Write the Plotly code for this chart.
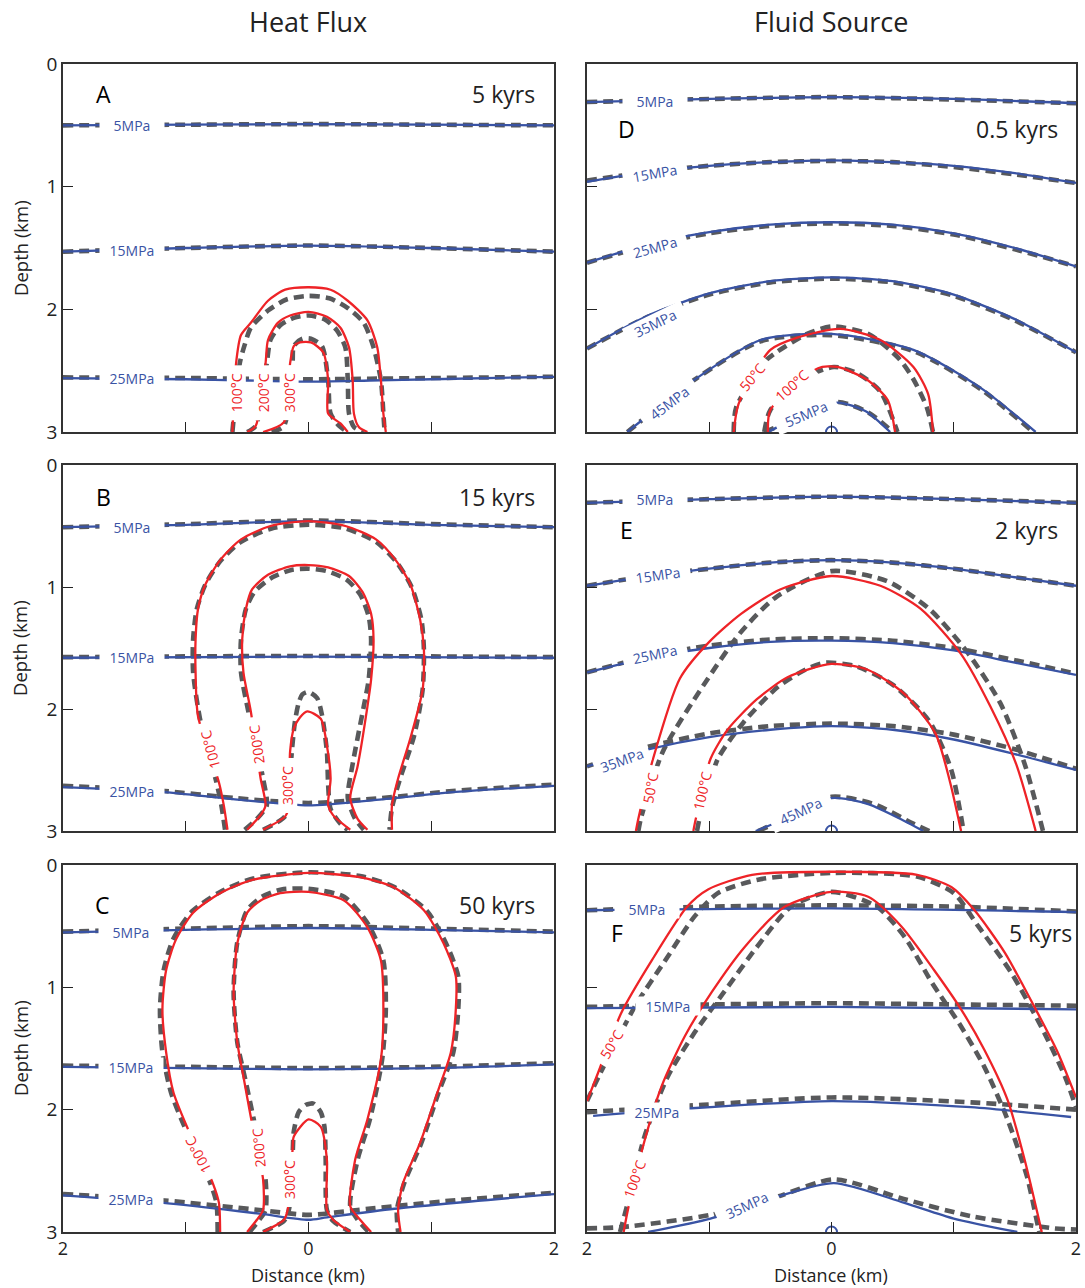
import plotly.graph_objects as go

# ---------------- DATA (x in km from centre, depth in km) ----------------
# Panel A  - Heat Flux, 5 kyrs
A_P5 = [(-2, 0.50), (-1, 0.495), (0, 0.49), (1, 0.495), (2, 0.50)]
A_P5_G = [(-2, 0.50), (-1, 0.495), (0, 0.49), (1, 0.495), (2, 0.50)]
A_P15 = [(-2, 1.53), (-1, 1.50), (0, 1.48), (1, 1.50), (2, 1.53)]
A_P15_G = [(-2, 1.53), (-1, 1.50), (0, 1.48), (1, 1.50), (2, 1.53)]
A_P25 = [(-2, 2.56), (-1, 2.57), (-0.5, 2.58), (0, 2.59), (0.5, 2.58), (1, 2.57), (2, 2.55)]
A_P25_G = [(-2, 2.555), (-1, 2.56), (0, 2.57), (1, 2.56), (2, 2.55)]
A_T100 = [(-0.62, 3.0), (-0.59, 2.44), (-0.55, 2.21), (-0.47, 2.11), (-0.33, 1.93), (-0.19, 1.84), (0, 1.82),
          (0.18, 1.84), (0.32, 1.93), (0.48, 2.09), (0.56, 2.31), (0.59, 2.58), (0.61, 2.85), (0.63, 3.0)]
A_T100_G = [(-0.62, 3.0), (-0.56, 2.44), (-0.52, 2.29), (-0.47, 2.15), (-0.33, 2.01), (-0.18, 1.92), (0, 1.89),
            (0.17, 1.91), (0.32, 1.99), (0.45, 2.11), (0.53, 2.31), (0.59, 2.58), (0.61, 2.85), (0.62, 3.0)]
A_T200 = [(-0.50, 3.0), (-0.43, 2.95), (-0.35, 2.44), (-0.33, 2.25), (-0.25, 2.11), (-0.15, 2.05), (0, 2.02),
          (0.15, 2.06), (0.26, 2.15), (0.33, 2.31), (0.36, 2.58), (0.37, 2.85), (0.41, 2.96), (0.48, 3.0)]
A_T200_G = [(-0.50, 3.0), (-0.43, 2.95), (-0.34, 2.44), (-0.31, 2.25), (-0.23, 2.13), (-0.12, 2.07), (0, 2.05),
            (0.13, 2.08), (0.23, 2.17), (0.30, 2.31), (0.32, 2.58), (0.33, 2.85), (0.37, 2.96), (0.45, 3.0)]
A_T300 = [(-0.37, 3.0), (-0.20, 2.92), (-0.15, 2.44), (-0.12, 2.30), (-0.07, 2.27), (0.02, 2.27), (0.12, 2.35),
          (0.16, 2.58), (0.16, 2.85), (0.26, 2.93), (0.32, 3.0)]
A_T300_G = [(-0.30, 3.0), (-0.20, 2.95), (-0.13, 2.44), (-0.12, 2.30), (-0.05, 2.24), (0.02, 2.24), (0.11, 2.30),
            (0.16, 2.58), (0.18, 2.85), (0.25, 2.95), (0.32, 3.0)]

# Panel B - Heat Flux, 15 kyrs
B_P5 = [(-2, 0.51), (-1, 0.49), (0, 0.46), (1, 0.49), (2, 0.51)]
B_P5_G = [(-2, 0.51), (-1, 0.485), (0, 0.455), (1, 0.485), (2, 0.51)]
B_P15 = [(-2, 1.58), (0, 1.57), (2, 1.58)]
B_P15_G = [(-2, 1.575), (0, 1.565), (2, 1.575)]
B_P25 = [(-2, 2.64), (-1.2, 2.68), (-0.6, 2.74), (0, 2.79), (0.6, 2.74), (1.2, 2.68), (2, 2.63)]
B_P25_G = [(-2, 2.63), (-1.2, 2.67), (-0.6, 2.73), (0, 2.77), (0.6, 2.73), (1.2, 2.67), (2, 2.62)]
B_T100 = [(-0.66, 2.99), (-0.69, 2.79), (-0.73, 2.60), (-0.90, 2.06), (-0.92, 1.70), (-0.92, 1.43), (-0.90, 1.18),
          (-0.84, 0.98), (-0.72, 0.78), (-0.55, 0.61), (-0.31, 0.50), (0, 0.46), (0.30, 0.50), (0.55, 0.61),
          (0.71, 0.78), (0.83, 0.98), (0.91, 1.27), (0.94, 1.51), (0.93, 1.84), (0.83, 2.24), (0.73, 2.57),
          (0.68, 2.79), (0.68, 2.99)]
B_T100_G = [(-0.68, 2.99), (-0.71, 2.79), (-0.75, 2.60), (-0.88, 2.10), (-0.94, 1.70), (-0.94, 1.43), (-0.91, 1.18),
            (-0.84, 0.98), (-0.72, 0.79), (-0.55, 0.63), (-0.30, 0.52), (0, 0.49), (0.30, 0.52), (0.55, 0.63),
            (0.72, 0.80), (0.84, 1.00), (0.92, 1.27), (0.94, 1.51), (0.93, 1.84), (0.86, 2.22), (0.74, 2.59),
            (0.68, 2.81), (0.66, 2.99)]
B_T200 = [(-0.50, 2.99), (-0.39, 2.87), (-0.35, 2.79), (-0.39, 2.57), (-0.47, 2.02), (-0.53, 1.70), (-0.54, 1.43),
          (-0.51, 1.18), (-0.46, 1.02), (-0.33, 0.90), (-0.15, 0.83), (0, 0.82), (0.16, 0.84), (0.33, 0.91),
          (0.44, 1.04), (0.51, 1.22), (0.53, 1.43), (0.51, 1.76), (0.48, 1.98), (0.40, 2.47), (0.34, 2.73),
          (0.40, 2.90), (0.48, 2.99)]
B_T200_G = [(-0.52, 2.99), (-0.42, 2.90), (-0.34, 2.79), (-0.37, 2.57), (-0.49, 2.02), (-0.55, 1.70), (-0.55, 1.43),
            (-0.51, 1.18), (-0.44, 1.04), (-0.31, 0.93), (-0.14, 0.86), (0, 0.85), (0.15, 0.87), (0.31, 0.94),
            (0.42, 1.06), (0.49, 1.24), (0.51, 1.43), (0.49, 1.76), (0.45, 1.98), (0.36, 2.45), (0.32, 2.73),
            (0.38, 2.90), (0.45, 2.99)]
B_T300 = [(-0.37, 2.99), (-0.19, 2.88), (-0.16, 2.80), (-0.15, 2.35), (-0.12, 2.16), (-0.07, 2.07), (-0.01, 2.02),
          (0.10, 2.08), (0.15, 2.30), (0.18, 2.57), (0.16, 2.79), (0.20, 2.87), (0.34, 2.99)]
B_T300_G = [(-0.37, 2.99), (-0.20, 2.89), (-0.16, 2.80), (-0.14, 2.40), (-0.11, 2.10), (-0.08, 1.95), (-0.05, 1.88),
            (0, 1.86), (0.07, 1.91), (0.11, 2.05), (0.15, 2.35), (0.16, 2.62), (0.18, 2.82), (0.26, 2.94), (0.32, 2.99)]

# Panel C - Heat Flux, 50 kyrs
C_P5 = [(-2, 0.55), (-1, 0.53), (0, 0.515), (1, 0.53), (2, 0.55)]
C_P5_G = [(-2, 0.545), (-1, 0.52), (0, 0.50), (1, 0.52), (2, 0.545)]
C_P15 = [(-2, 1.65), (-1, 1.66), (0, 1.67), (1, 1.66), (2, 1.63)]
C_P15_G = [(-2, 1.64), (-1, 1.65), (0, 1.66), (1, 1.65), (2, 1.62)]
C_P25 = [(-2, 2.70), (-1.2, 2.76), (-0.4, 2.85), (0, 2.90), (0.15, 2.88), (0.7, 2.81), (2, 2.69)]
C_P25_G = [(-2, 2.69), (-1.2, 2.74), (-0.4, 2.82), (0, 2.86), (0.4, 2.82), (1.2, 2.74), (2, 2.68)]
C_T100 = [(-0.72, 3.0), (-0.73, 2.76), (-0.78, 2.60), (-0.99, 2.14), (-1.10, 1.86), (-1.16, 1.53), (-1.19, 1.18),
          (-1.16, 0.86), (-1.08, 0.61), (-0.94, 0.39), (-0.72, 0.23), (-0.45, 0.12), (0, 0.065), (0.42, 0.10),
          (0.69, 0.18), (0.94, 0.37), (1.10, 0.64), (1.20, 0.91), (1.20, 1.18), (1.16, 1.53), (1.05, 1.86),
          (0.91, 2.27), (0.77, 2.60), (0.73, 2.82), (0.75, 3.0)]
C_T100_G = [(-0.74, 3.0), (-0.75, 2.76), (-0.80, 2.60), (-1.01, 2.14), (-1.12, 1.86), (-1.19, 1.53), (-1.21, 1.18),
            (-1.18, 0.86), (-1.10, 0.60), (-0.95, 0.38), (-0.72, 0.22), (-0.45, 0.11), (0, 0.06), (0.42, 0.09),
            (0.70, 0.18), (0.96, 0.37), (1.12, 0.64), (1.22, 0.91), (1.22, 1.18), (1.18, 1.53), (1.06, 1.86),
            (0.92, 2.27), (0.78, 2.60), (0.72, 2.82), (0.73, 3.0)]
C_T200 = [(-0.50, 3.0), (-0.42, 2.90), (-0.37, 2.82), (-0.37, 2.57), (-0.47, 2.06), (-0.53, 1.73), (-0.58, 1.45),
          (-0.61, 1.04), (-0.58, 0.64), (-0.50, 0.39), (-0.39, 0.29), (-0.23, 0.23), (0, 0.22), (0.29, 0.29),
          (0.48, 0.51), (0.59, 0.78), (0.61, 1.18), (0.59, 1.59), (0.48, 2.08), (0.38, 2.41), (0.34, 2.79),
          (0.42, 2.90), (0.51, 3.0)]
C_T200_G = [(-0.48, 3.0), (-0.40, 2.90), (-0.35, 2.82), (-0.35, 2.57), (-0.45, 2.06), (-0.52, 1.73), (-0.58, 1.45),
            (-0.61, 1.04), (-0.58, 0.63), (-0.50, 0.37), (-0.38, 0.26), (-0.22, 0.20), (0, 0.195), (0.29, 0.26),
            (0.49, 0.49), (0.61, 0.78), (0.63, 1.18), (0.60, 1.59), (0.50, 2.08), (0.40, 2.41), (0.34, 2.79),
            (0.40, 2.90), (0.49, 3.0)]
C_T300 = [(-0.37, 3.0), (-0.20, 2.90), (-0.17, 2.82), (-0.13, 2.33), (-0.12, 2.22), (0, 2.08), (0.10, 2.14),
          (0.15, 2.41), (0.15, 2.82), (0.20, 2.90), (0.34, 3.0)]
C_T300_G = [(-0.37, 3.0), (-0.20, 2.91), (-0.16, 2.82), (-0.13, 2.40), (-0.12, 2.18), (-0.08, 2.02), (-0.02, 1.96),
            (0.04, 1.95), (0.10, 2.02), (0.13, 2.14), (0.14, 2.41), (0.15, 2.82), (0.20, 2.91), (0.34, 3.0)]

# Panel D - Fluid Source, 0.5 kyrs
D_P5 = [(-2, 0.31), (-1, 0.285), (0, 0.27), (1, 0.285), (2, 0.32)]
D_P5_G = [(-2, 0.31), (-1, 0.285), (0, 0.27), (1, 0.29), (2, 0.32)]
D_P15 = [(-2, 0.96), (-1.5, 0.88), (-1, 0.83), (-0.5, 0.80), (0, 0.785), (0.5, 0.80), (1, 0.83), (1.5, 0.89), (2, 0.97)]
D_P15_G = [(-2, 0.95), (-1.5, 0.88), (-1, 0.83), (-0.5, 0.80), (0, 0.79), (0.5, 0.80), (1, 0.84), (1.5, 0.90), (2, 0.97)]
D_P25 = [(-2, 1.62), (-1.5, 1.47), (-1, 1.37), (-0.5, 1.31), (0, 1.29), (0.5, 1.31), (1, 1.38), (1.5, 1.50), (2, 1.65)]
D_P25_G = [(-2, 1.62), (-1.5, 1.48), (-1, 1.38), (-0.5, 1.32), (0, 1.30), (0.5, 1.32), (1, 1.39), (1.5, 1.51), (2, 1.65)]
D_P35 = [(-2, 2.32), (-1.5, 2.05), (-1, 1.87), (-0.5, 1.77), (0, 1.74), (0.5, 1.77), (1, 1.88), (1.5, 2.08), (2, 2.35)]
D_P35_G = [(-2, 2.32), (-1.5, 2.06), (-1, 1.88), (-0.5, 1.78), (0, 1.75), (0.5, 1.78), (1, 1.89), (1.5, 2.09), (2, 2.35)]
D_P45 = [(-1.67, 3.0), (-1.13, 2.58), (-0.58, 2.25), (0, 2.20), (0.67, 2.33), (1.22, 2.64), (1.67, 3.0)]
D_P45_G = [(-1.67, 3.0), (-1.13, 2.58), (-0.58, 2.26), (0, 2.21), (0.67, 2.34), (1.22, 2.65), (1.65, 3.0)]
D_P55 = [(-0.52, 3.0), (-0.42, 2.95), (-0.2, 2.85), (0.05, 2.76), (0.28, 2.83), (0.48, 3.0)]
D_P55_G = [(-0.55, 3.0), (-0.45, 2.96), (-0.2, 2.85), (0.05, 2.755), (0.3, 2.84), (0.50, 3.0)]
D_T50 = [(-0.80, 3.0), (-0.76, 2.77), (-0.50, 2.33), (-0.28, 2.23), (0.07, 2.16), (0.40, 2.25), (0.67, 2.47),
         (0.79, 2.69), (0.83, 3.0)]
D_T50_G = [(-0.80, 3.0), (-0.78, 2.80), (-0.55, 2.43), (-0.45, 2.35), (-0.2, 2.20), (0, 2.14), (0.3, 2.20),
           (0.55, 2.40), (0.67, 2.57), (0.78, 2.80), (0.83, 3.0)]
D_T100 = [(-0.52, 3.0), (-0.50, 2.82), (-0.11, 2.48), (0.05, 2.47), (0.30, 2.58), (0.46, 2.74), (0.52, 3.0)]
D_T100_G = [(-0.55, 3.0), (-0.50, 2.82), (-0.2, 2.55), (0.02, 2.47), (0.21, 2.52), (0.40, 2.67), (0.54, 3.0)]

# Panel E - Fluid Source, 2 kyrs
E_P5 = [(-2, 0.31), (-1, 0.28), (0, 0.26), (1, 0.28), (2, 0.31)]
E_P5_G = [(-2, 0.31), (-1, 0.28), (0, 0.26), (1, 0.28), (2, 0.31)]
E_P15 = [(-2, 0.99), (-1.5, 0.91), (-1, 0.85), (-0.5, 0.80), (0, 0.78), (0.5, 0.80), (1, 0.85), (1.5, 0.92), (2, 0.99)]
E_P15_G = [(-2, 0.99), (-1.5, 0.91), (-1, 0.85), (-0.5, 0.80), (0, 0.78), (0.5, 0.80), (1, 0.85), (1.5, 0.92), (2, 0.99)]
E_P25 = [(-2, 1.70), (-1.5, 1.58), (-1, 1.50), (-0.5, 1.45), (0, 1.44), (0.5, 1.46), (1, 1.52), (1.5, 1.62), (2, 1.72)]
E_P25_G = [(-2, 1.70), (-1.5, 1.57), (-1, 1.48), (-0.5, 1.43), (0, 1.42), (0.5, 1.44), (1, 1.50), (1.5, 1.60), (2, 1.71)]
E_P35 = [(-2, 2.47), (-1.5, 2.33), (-1, 2.23), (-0.5, 2.17), (0, 2.14), (0.5, 2.17), (1, 2.25), (1.5, 2.37), (2, 2.50)]
E_P35_G = [(-2, 2.47), (-1.5, 2.31), (-1, 2.20), (-0.5, 2.14), (0, 2.12), (0.5, 2.14), (1, 2.21), (1.5, 2.33), (2, 2.49)]
E_P45 = [(-0.62, 3.0), (-0.45, 2.93), (0, 2.73), (0.3, 2.78), (0.6, 2.92), (0.75, 3.0)]
E_P45_G = [(-0.60, 3.0), (-0.40, 2.91), (0, 2.72), (0.35, 2.78), (0.65, 2.93), (0.80, 3.0)]
E_T50 = [(-1.60, 3.0), (-1.58, 2.90), (-1.46, 2.41), (-1.24, 1.75), (-1.0, 1.45), (-0.74, 1.22), (-0.42, 1.02),
         (0, 0.91), (0.40, 0.99), (0.73, 1.18), (1.06, 1.55), (1.30, 1.98), (1.51, 2.45), (1.67, 3.0)]
E_T50_G = [(-1.58, 3.0), (-1.56, 2.90), (-1.38, 2.35), (-1.05, 1.81), (-0.75, 1.38), (-0.45, 1.08), (0, 0.87),
           (0.45, 0.95), (0.8, 1.18), (1.1, 1.52), (1.38, 1.95), (1.58, 2.45), (1.73, 3.0)]
E_T100 = [(-1.13, 3.0), (-1.11, 2.90), (-0.99, 2.41), (-0.85, 2.17), (-0.61, 1.92), (-0.36, 1.74), (0, 1.63),
          (0.3, 1.68), (0.6, 1.88), (0.85, 2.2), (0.97, 2.6), (1.06, 3.0)]
E_T100_G = [(-1.10, 3.0), (-1.08, 2.90), (-0.93, 2.41), (-0.72, 2.11), (-0.44, 1.82), (-0.2, 1.67), (-0.05, 1.62),
            (0.2, 1.65), (0.5, 1.80), (0.8, 2.1), (0.98, 2.5), (1.08, 3.0)]

# Panel F - Fluid Source, 5 kyrs
F_P5 = [(-2, 0.37), (0, 0.355), (2, 0.385)]
F_P5_G = [(-2, 0.37), (-1, 0.34), (0, 0.33), (1, 0.34), (2, 0.38)]
F_P15 = [(-2, 1.17), (0, 1.16), (2, 1.18)]
F_P15_G = [(-2, 1.16), (-1, 1.14), (0, 1.13), (1, 1.14), (2, 1.15)]
F_P25 = [(-1.95, 2.05), (-1.17, 1.99), (0, 1.93), (1.14, 1.98), (1.96, 2.06)]
F_P25_G = [(-2, 2.02), (-1.05, 1.96), (0, 1.90), (1.14, 1.94), (2, 2.00)]
F_P35 = [(-1.5, 3.0), (-0.99, 2.89), (-0.44, 2.71), (0.02, 2.60), (0.59, 2.76), (1.0, 2.89), (1.52, 3.0)]
F_P35_G = [(-2, 2.97), (-1.72, 2.96), (-0.99, 2.86), (-0.44, 2.71), (0.02, 2.57), (0.59, 2.73), (1.14, 2.87),
           (1.82, 2.97), (2, 2.98)]
F_T50 = [(-2.0, 1.93), (-1.91, 1.70), (-1.72, 1.21), (-1.47, 0.78), (-1.18, 0.34), (-1.01, 0.20), (-0.65, 0.08),
         (0, 0.055), (0.7, 0.08), (0.98, 0.18), (1.17, 0.37), (1.42, 0.72), (1.66, 1.16), (1.85, 1.53), (2.0, 1.90)]
F_T50_G = [(-2.0, 1.93), (-1.90, 1.72), (-1.61, 1.16), (-1.34, 0.75), (-1.12, 0.42), (-0.93, 0.23), (-0.6, 0.12),
           (0, 0.065), (0.7, 0.095), (1.0, 0.23), (1.2, 0.50), (1.47, 0.88), (1.74, 1.37), (1.91, 1.73), (2.0, 1.98)]
F_T100 = [(-1.70, 3.0), (-1.67, 2.84), (-1.55, 2.33), (-1.39, 1.81), (-1.2, 1.40), (-0.98, 1.04), (-0.71, 0.67),
          (-0.38, 0.34), (0, 0.22), (0.3, 0.26), (0.57, 0.50), (0.84, 0.86), (1.06, 1.18), (1.25, 1.51),
          (1.44, 1.92), (1.58, 2.41), (1.72, 3.0)]
F_T100_G = [(-1.73, 3.0), (-1.65, 2.70), (-1.53, 2.22), (-1.34, 1.73), (-1.12, 1.37), (-0.88, 1.04), (-0.61, 0.67),
            (-0.33, 0.34), (0, 0.22), (0.37, 0.34), (0.6, 0.59), (0.82, 0.96), (1.06, 1.32), (1.25, 1.65),
            (1.44, 2.08), (1.6, 2.55), (1.69, 2.96), (1.70, 3.0)]

# Source position (fluid source model)
SOURCE = (0, 3.0)

# ---------------- STYLE ----------------
BLUE = "#3953a4"
RED = "#ee2327"
GRAY = "#58595b"
FONT = "Open Sans"

fig = go.Figure()

LEFT = [63 / 1085, 554 / 1085]
RIGHT = [587 / 1085, 1076 / 1085]
ROWS = [[1 - 432 / 1288, 1 - 64 / 1288], [1 - 831 / 1288, 1 - 465 / 1288], [1 - 1232 / 1288, 1 - 865 / 1288]]

# axis index: A=1, D=2, B=3, E=4, C=5, F=6
panels = {
    "A": dict(ax=1, col=0, row=0),
    "D": dict(ax=2, col=1, row=0),
    "B": dict(ax=3, col=0, row=1),
    "E": dict(ax=4, col=1, row=1),
    "C": dict(ax=5, col=0, row=2),
    "F": dict(ax=6, col=1, row=2),
}

lines = {
    "A": [(A_P5, A_P5_G, "P"), (A_P15, A_P15_G, "P"), (A_P25, A_P25_G, "P"),
          (A_T100, A_T100_G, "T"), (A_T200, A_T200_G, "T"), (A_T300, A_T300_G, "T")],
    "B": [(B_P5, B_P5_G, "P"), (B_P15, B_P15_G, "P"), (B_P25, B_P25_G, "P"),
          (B_T100, B_T100_G, "T"), (B_T200, B_T200_G, "T"), (B_T300, B_T300_G, "T")],
    "C": [(C_P5, C_P5_G, "P"), (C_P15, C_P15_G, "P"), (C_P25, C_P25_G, "P"),
          (C_T100, C_T100_G, "T"), (C_T200, C_T200_G, "T"), (C_T300, C_T300_G, "T")],
    "D": [(D_P5, D_P5_G, "P"), (D_P15, D_P15_G, "P"), (D_P25, D_P25_G, "P"), (D_P35, D_P35_G, "P"),
          (D_P45, D_P45_G, "P"), (D_P55, D_P55_G, "P"), (D_T50, D_T50_G, "T"), (D_T100, D_T100_G, "T")],
    "E": [(E_P5, E_P5_G, "P"), (E_P15, E_P15_G, "P"), (E_P25, E_P25_G, "P"), (E_P35, E_P35_G, "P"),
          (E_P45, E_P45_G, "P"), (E_T50, E_T50_G, "T"), (E_T100, E_T100_G, "T")],
    "F": [(F_P5, F_P5_G, "P"), (F_P15, F_P15_G, "P"), (F_P25, F_P25_G, "P"), (F_P35, F_P35_G, "P"),
          (F_T50, F_T50_G, "T"), (F_T100, F_T100_G, "T")],
}

# contour labels: (text, x, depth, angle, kind)
labels = {
    "A": [("5MPa", -1.44, 0.50, 0, "P"), ("15MPa", -1.44, 1.52, 0, "P"), ("25MPa", -1.44, 2.56, 0, "P"),
          ("100°C", -0.59, 2.68, -90, "T"), ("200°C", -0.37, 2.68, -90, "T"), ("300°C", -0.16, 2.68, -90, "T")],
    "B": [("5MPa", -1.44, 0.51, 0, "P"), ("15MPa", -1.44, 1.575, 0, "P"), ("25MPa", -1.44, 2.67, 0, "P"),
          ("100°C", -0.80, 2.33, -105, "T"), ("200°C", -0.42, 2.29, -98, "T"), ("300°C", -0.17, 2.63, -90, "T")],
    "C": [("5MPa", -1.45, 0.545, 0, "P"), ("15MPa", -1.45, 1.65, 0, "P"), ("25MPa", -1.45, 2.73, 0, "P"),
          ("100°C", -0.90, 2.37, -118, "T"), ("200°C", -0.41, 2.31, -95, "T"), ("300°C", -0.15, 2.57, -90, "T")],
    "D": [("5MPa", -1.44, 0.30, 0, "P"), ("15MPa", -1.44, 0.89, -10, "P"), ("25MPa", -1.44, 1.49, -16, "P"),
          ("35MPa", -1.44, 2.11, -26, "P"), ("45MPa", -1.33, 2.76, -37, "P"), ("55MPa", -0.21, 2.85, -23, "P"),
          ("50°C", -0.65, 2.55, -50, "T"), ("100°C", -0.32, 2.62, -42, "T")],
    "E": [("5MPa", -1.44, 0.28, 0, "P"), ("15MPa", -1.42, 0.90, -8, "P"), ("25MPa", -1.44, 1.55, -12, "P"),
          ("35MPa", -1.71, 2.42, -20, "P"), ("45MPa", -0.25, 2.84, -25, "P"),
          ("50°C", -1.48, 2.65, -80, "T"), ("100°C", -1.06, 2.67, -77, "T")],
    "F": [("5MPa", -1.51, 0.36, 0, "P"), ("15MPa", -1.34, 1.15, 0, "P"), ("25MPa", -1.43, 2.02, 0, "P"),
          ("35MPa", -0.69, 2.78, -25, "P"), ("50°C", -1.80, 1.46, -59, "T"), ("100°C", -1.61, 2.57, -70, "T")],
}

letters = [("A", 103, 94), ("B", 103, 497), ("C", 102, 905), ("D", 626, 129), ("E", 626, 530), ("F", 617, 933)]
times = [("5 kyrs", 537, 94), ("15 kyrs", 537, 497), ("50 kyrs", 537, 905),
         ("0.5 kyrs", 1060, 129), ("2 kyrs", 1060, 530), ("5 kyrs", 1074, 933)]


def axname(i, a):
    return a if i == 1 else f"{a}{i}"


def add_curve(pts, color, width, dash, i):
    fig.add_trace(go.Scatter(
        x=[p[0] for p in pts], y=[p[1] for p in pts], mode="lines",
        line=dict(color=color, width=width, dash=dash, shape="spline", smoothing=0.7),
        xaxis=axname(i, "x"), yaxis=axname(i, "y"), showlegend=False, hoverinfo="skip"))


# gray (dashed) first, then coloured solid lines on top
for key, p in panels.items():
    for main, gray, kind in lines[key]:
        add_curve(gray, GRAY, 4.6, "10px,6px", p["ax"])
for key, p in panels.items():
    for main, gray, kind in lines[key]:
        add_curve(main, BLUE if kind == "P" else RED, 2.3, "solid", p["ax"])
    if key in ("D", "E", "F"):
        fig.add_trace(go.Scatter(x=[SOURCE[0]], y=[SOURCE[1]], mode="markers",
                                 marker=dict(symbol="circle-open", size=11, color=BLUE, line=dict(width=2, color=BLUE)),
                                 xaxis=axname(p["ax"], "x"), yaxis=axname(p["ax"], "y"),
                                 showlegend=False, hoverinfo="skip", cliponaxis=True))

annotations = []
for key, p in panels.items():
    i = p["ax"]
    for text, x, d, ang, kind in labels[key]:
        w = 64 if kind == "P" else (54 if len(text) > 4 else 44)
        if key == "E" and text == "35MPa":
            w = 56
        annotations.append(dict(
            x=x, y=d, xref=axname(i, "x"), yref=axname(i, "y"), text=text, showarrow=False,
            textangle=ang, font=dict(family=FONT, size=14, color=BLUE if kind == "P" else RED),
            bgcolor="white", width=w, height=18, borderpad=0, xanchor="center", yanchor="middle"))

for t, x, y in letters:
    annotations.append(dict(x=x / 1085, y=1 - y / 1288, xref="paper", yref="paper", text=t, showarrow=False,
                            font=dict(family=FONT, size=23, color="black"), xanchor="center", yanchor="middle"))
for t, x, y in times:
    annotations.append(dict(x=x / 1085, y=1 - y / 1288, xref="paper", yref="paper", text=t, showarrow=False,
                            font=dict(family=FONT, size=23, color="#222"), xanchor="right", yanchor="middle"))
for t, x in [("Heat Flux", 308), ("Fluid Source", 831)]:
    annotations.append(dict(x=x / 1085, y=1 - 22 / 1288, xref="paper", yref="paper", text=t, showarrow=False,
                            font=dict(family=FONT, size=27, color="#222"), xanchor="center", yanchor="middle"))
for y in (248, 648, 1048):
    annotations.append(dict(x=20 / 1085, y=1 - y / 1288, xref="paper", yref="paper", text="Depth (km)",
                            showarrow=False, textangle=-90, font=dict(family=FONT, size=18.5, color="#222"),
                            xanchor="center", yanchor="middle"))
for x in (308, 831):
    annotations.append(dict(x=x / 1085, y=1 - 1275 / 1288, xref="paper", yref="paper", text="Distance (km)",
                            showarrow=False, font=dict(family=FONT, size=18, color="#222"),
                            xanchor="center", yanchor="middle"))

layout = dict(width=1085, height=1288, margin=dict(l=0, r=0, t=0, b=0, autoexpand=False),
              paper_bgcolor="white", plot_bgcolor="white", annotations=annotations, showlegend=False)

for key, p in panels.items():
    i = p["ax"]
    xd = LEFT if p["col"] == 0 else RIGHT
    yd = ROWS[p["row"]]
    bottom = p["row"] == 2
    left = p["col"] == 0
    layout[axname(i, "xaxis")] = dict(
        domain=xd, range=[-2, 2], anchor=axname(i, "y"), showgrid=False, zeroline=False, automargin=False,
        showline=True, mirror=True, linecolor="#333", linewidth=1.5,
        ticks="inside", ticklen=10, tickwidth=1.2, tickcolor="#222",
        tickvals=[-2, -1, 0, 1, 2], ticktext=["2", "", "0", "", "2"], showticklabels=bottom,
        tickfont=dict(family=FONT, size=18, color="#222"), ticklabelstandoff=0, fixedrange=True)
    layout[axname(i, "yaxis")] = dict(
        domain=yd, range=[3, 0], anchor=axname(i, "x"), showgrid=False, zeroline=False, automargin=False,
        showline=True, mirror=True, linecolor="#333", linewidth=1.5,
        ticks="inside", ticklen=10, tickwidth=1.2, tickcolor="#222",
        tickvals=[0, 1, 2, 3], showticklabels=left,
        tickfont=dict(family=FONT, size=19, color="#222"), fixedrange=True)

fig.update_layout(**layout)
fig.write_html("out.html")
